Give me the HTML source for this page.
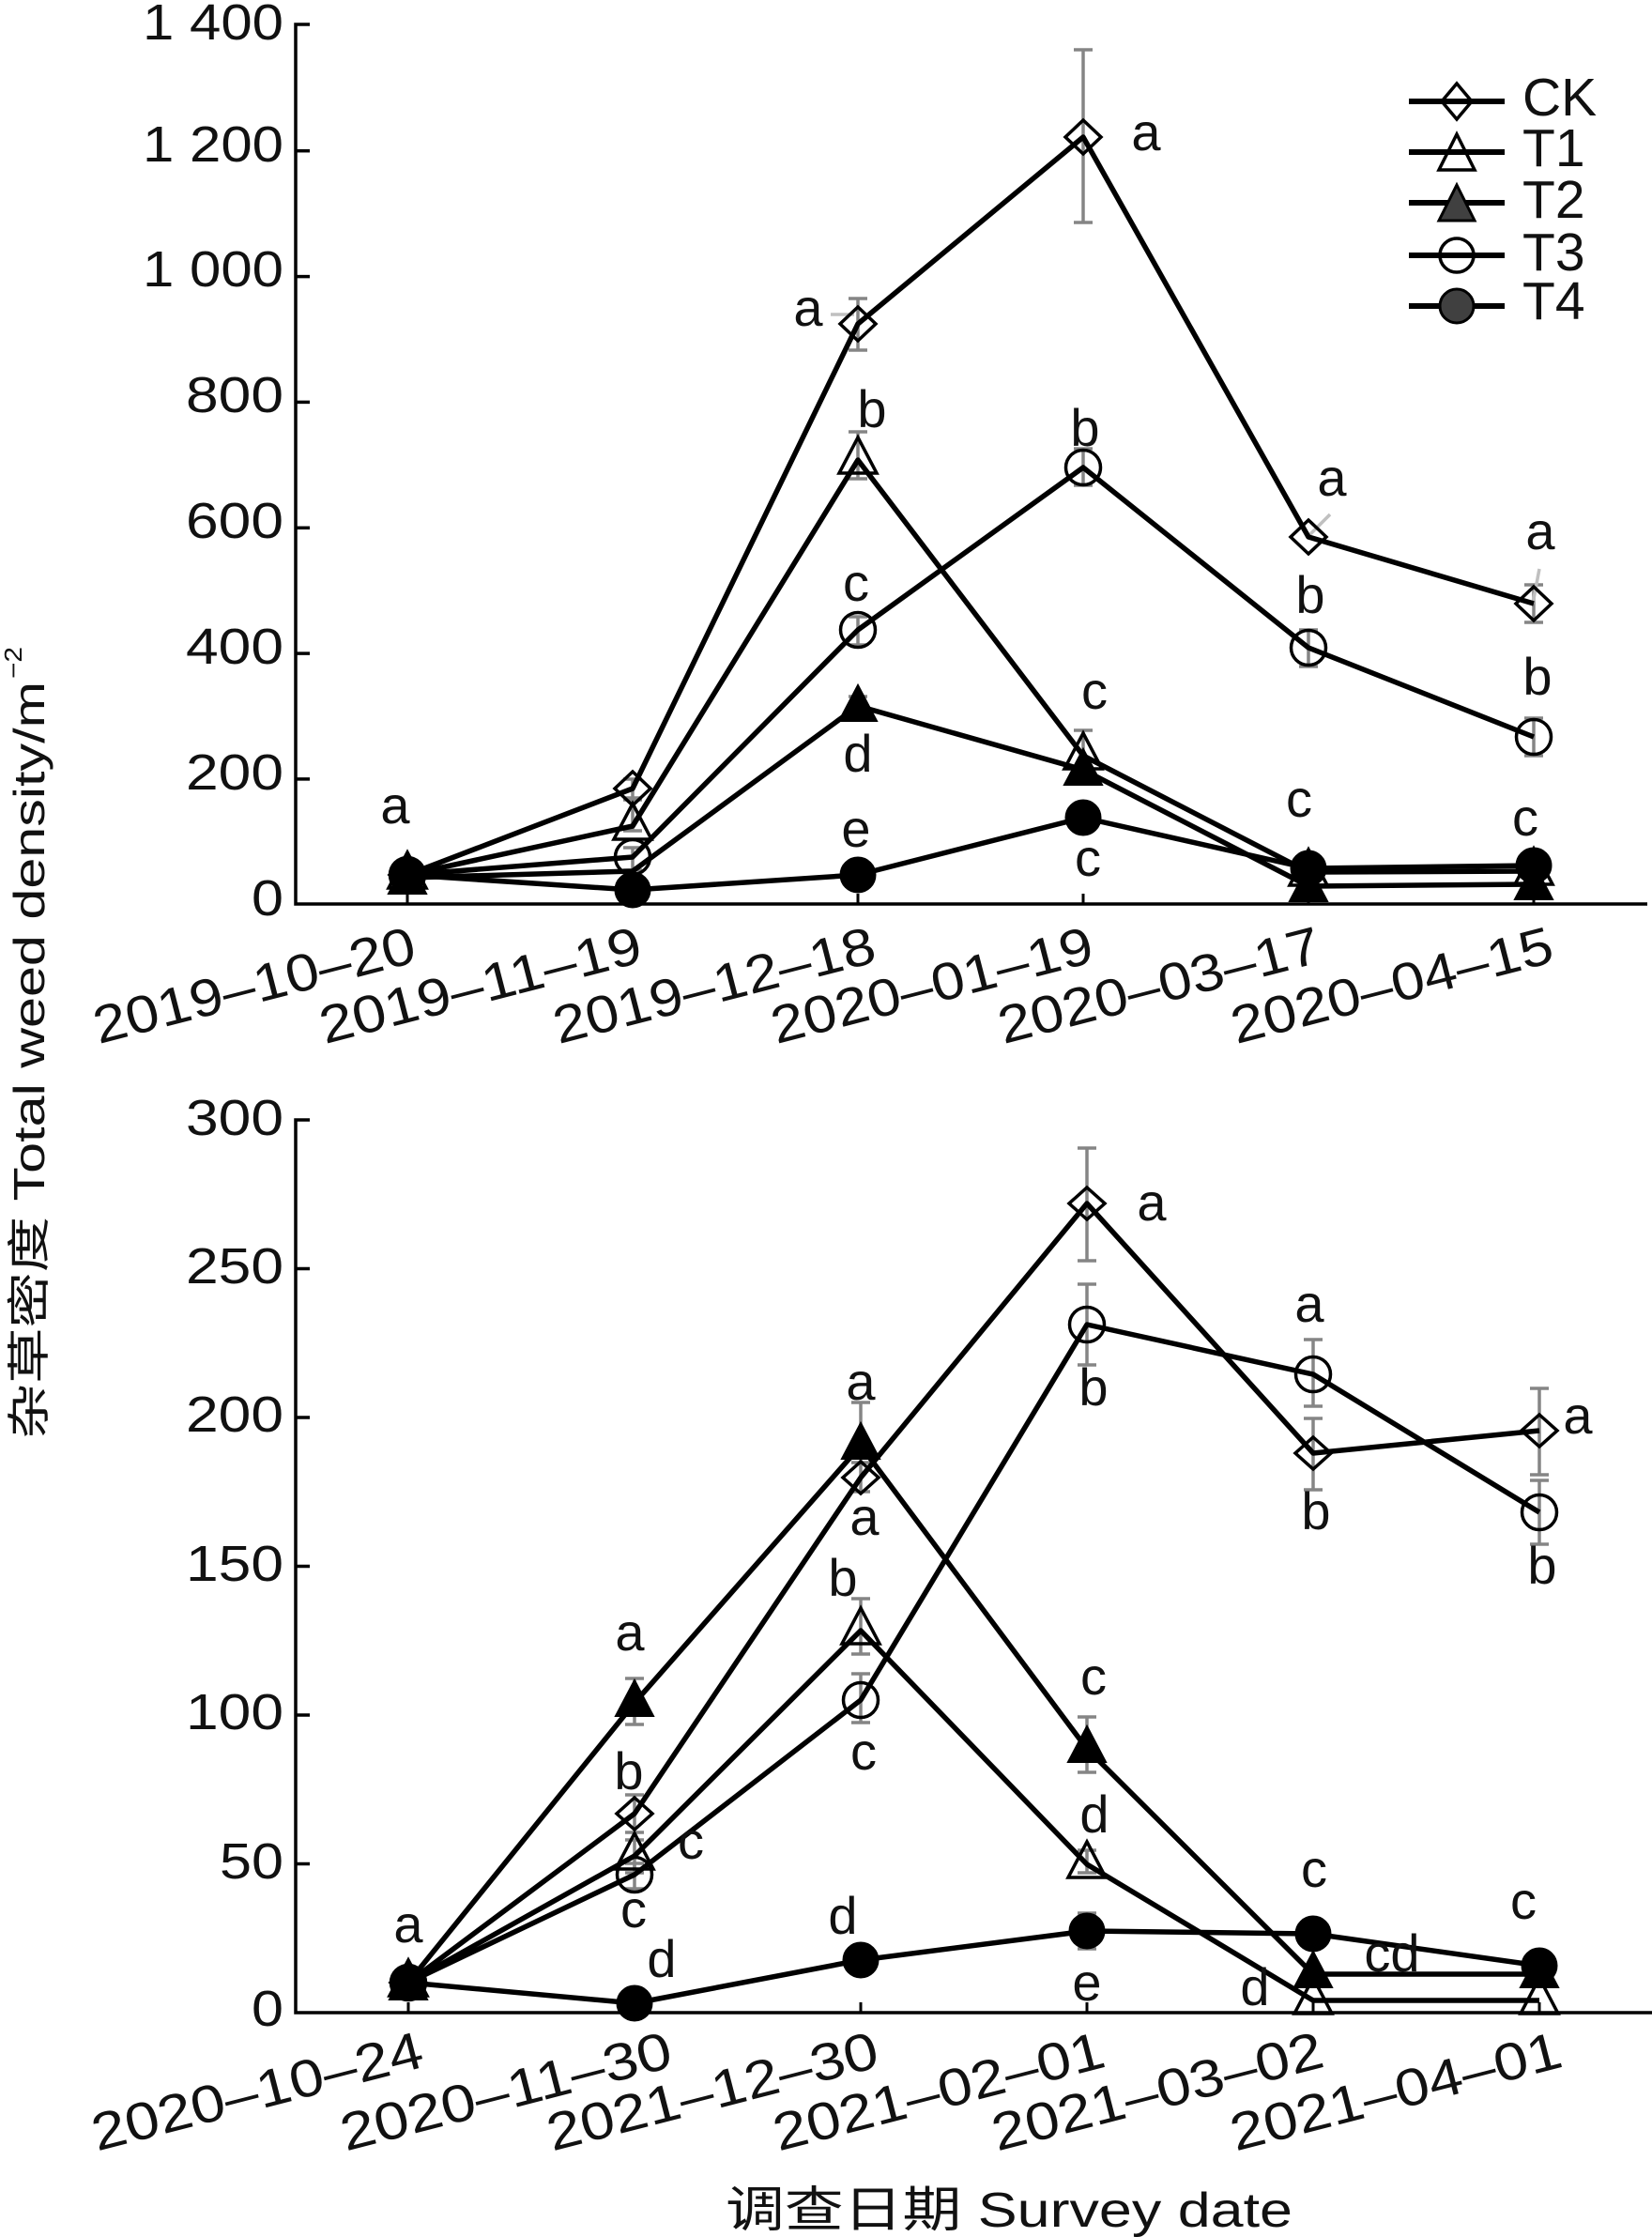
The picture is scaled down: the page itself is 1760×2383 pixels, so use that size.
<!DOCTYPE html>
<html>
<head>
<meta charset="utf-8">
<style>
html,body{margin:0;padding:0;background:#fff;}
svg{display:block;}
text{font-family:"Liberation Sans","Noto Sans CJK SC",sans-serif;fill:#111;}
</style>
</head>
<body>
<svg width="1760" height="2383" viewBox="0 0 1760 2383" xmlns="http://www.w3.org/2000/svg">

<!-- ================= TOP CHART ================= -->
<g stroke="#000" stroke-width="3.5" fill="none">
  <polyline points="330,26 315,26 315,963 1755,963"/>
  <line x1="315" y1="160.7" x2="330" y2="160.7"/>
  <line x1="315" y1="294.6" x2="330" y2="294.6"/>
  <line x1="315" y1="428.4" x2="330" y2="428.4"/>
  <line x1="315" y1="562.3" x2="330" y2="562.3"/>
  <line x1="315" y1="696.1" x2="330" y2="696.1"/>
  <line x1="315" y1="829.9" x2="330" y2="829.9"/>
  <line x1="434" y1="963" x2="434" y2="952" stroke-width="3"/>
  <line x1="674" y1="963" x2="674" y2="952" stroke-width="3"/>
  <line x1="914" y1="963" x2="914" y2="952" stroke-width="3"/>
  <line x1="1154" y1="963" x2="1154" y2="952" stroke-width="3"/>
  <line x1="1394" y1="963" x2="1394" y2="952" stroke-width="3"/>
  <line x1="1634" y1="963" x2="1634" y2="952" stroke-width="3"/>
</g>
<g font-size="54" text-anchor="end">
  <text x="302" y="42" textLength="150" lengthAdjust="spacingAndGlyphs">1 400</text>
  <text x="302" y="172" textLength="150" lengthAdjust="spacingAndGlyphs">1 200</text>
  <text x="302" y="305" textLength="150" lengthAdjust="spacingAndGlyphs">1 000</text>
  <text x="302" y="439" textLength="104" lengthAdjust="spacingAndGlyphs">800</text>
  <text x="302" y="573" textLength="104" lengthAdjust="spacingAndGlyphs">600</text>
  <text x="302" y="707" textLength="104" lengthAdjust="spacingAndGlyphs">400</text>
  <text x="302" y="841" textLength="104" lengthAdjust="spacingAndGlyphs">200</text>
  <text x="302" y="975" textLength="34" lengthAdjust="spacingAndGlyphs">0</text>
</g>
<g font-size="56" text-anchor="end">
  <text transform="translate(446,1024) rotate(-14.5)" textLength="352" lengthAdjust="spacingAndGlyphs">2019–10–20</text>
  <text transform="translate(687,1024) rotate(-14.5)" textLength="352" lengthAdjust="spacingAndGlyphs">2019–11–19</text>
  <text transform="translate(936,1024) rotate(-14.5)" textLength="352" lengthAdjust="spacingAndGlyphs">2019–12–18</text>
  <text transform="translate(1168,1024) rotate(-14.5)" textLength="352" lengthAdjust="spacingAndGlyphs">2020–01–19</text>
  <text transform="translate(1410,1024) rotate(-14.5)" textLength="352" lengthAdjust="spacingAndGlyphs">2020–03–17</text>
  <text transform="translate(1658,1024) rotate(-14.5)" textLength="352" lengthAdjust="spacingAndGlyphs">2020–04–15</text>
</g>

<!-- error bars top -->
<g stroke="#858585" stroke-width="3.5" fill="none">
  <path d="M674,830V852M664,830H684M664,852H684"/>
  <path d="M914,318V373M904,318H924M904,373H924"/>
  <path d="M1154,53V237M1144,53H1164M1144,237H1164"/>
  <path d="M1634,623V663M1624,623H1644M1624,663H1644"/>
  <path d="M674,850V885M664,850H684M664,885H684"/>
  <path d="M914,460V510M904,460H924M904,510H924"/>
  <path d="M1154,778V832M1144,778H1164M1144,832H1164"/>
  <path d="M674,903V927M664,903H684M664,927H684"/>
  <path d="M914,657V687M904,657H924M904,687H924"/>
  <path d="M1154,478V517M1144,478H1164M1144,517H1164"/>
  <path d="M1394,671V710M1384,671H1404M1384,710H1404"/>
  <path d="M1634,765V805M1624,765H1644M1624,805H1644"/>
  <path d="M914,742V762M904,742H924M904,762H924"/>
</g>
<g stroke="#c0c0c0" stroke-width="3.5">
  <line x1="885" y1="335" x2="910" y2="335"/>
  <line x1="1395" y1="570" x2="1417" y2="548"/>
  <line x1="1633" y1="643" x2="1640" y2="606"/>
</g>

<!-- series lines top -->
<g stroke="#000" stroke-width="5.5" fill="none" stroke-linejoin="round">
  <polyline points="434,932 674,840 914,345 1154,146 1394,572 1634,643"/>
  <polyline points="434,932 674,880 914,490 1154,805 1394,929 1634,928"/>
  <polyline points="434,935 674,928 914,752 1154,820 1394,944 1634,942"/>
  <polyline points="434,932 674,913 914,671 1154,498 1394,690 1634,785"/>
  <polyline points="434,932 674,948 914,932 1154,871 1394,925 1634,922"/>
</g>

<!-- markers top -->
<g stroke="#000" stroke-width="3.5" fill="none">
  <path d="M434,914 L453,932 L434,950 L415,932Z"/>
  <path d="M674,822 L693,840 L674,858 L655,840Z"/>
  <path d="M914,327 L933,345 L914,363 L895,345Z"/>
  <path d="M1154,128 L1173,146 L1154,164 L1135,146Z"/>
  <path d="M1394,554 L1413,572 L1394,590 L1375,572Z"/>
  <path d="M1634,625 L1653,643 L1634,661 L1615,643Z"/>
  <path d="M434,908 L454,946 L414,946Z"/>
  <path d="M674,856 L694,894 L654,894Z"/>
  <path d="M914,466 L934,504 L894,504Z"/>
  <path d="M1154,781 L1174,819 L1134,819Z"/>
  <path d="M1394,905 L1414,943 L1374,943Z"/>
  <path d="M1634,904 L1654,942 L1614,942Z"/>
  <circle cx="434" cy="932" r="18.5"/>
  <circle cx="674" cy="913" r="18.5"/>
  <circle cx="914" cy="671" r="18.5"/>
  <circle cx="1154" cy="498" r="18.5"/>
  <circle cx="1394" cy="690" r="18.5"/>
  <circle cx="1634" cy="785" r="18.5"/>
</g>
<g stroke="#000" stroke-width="2" fill="#000">
  <path d="M434,914 L454,952 L414,952Z"/>
  <path d="M914,730 L934,768 L894,768Z"/>
  <path d="M1154,798 L1174,836 L1134,836Z"/>
  <path d="M1394,922 L1414,960 L1374,960Z"/>
  <path d="M1634,920 L1654,958 L1614,958Z"/>
  <circle cx="434" cy="932" r="18.5"/>
  <circle cx="674" cy="948" r="18.5"/>
  <circle cx="914" cy="932" r="18.5"/>
  <circle cx="1154" cy="871" r="18.5"/>
  <circle cx="1394" cy="925" r="18.5"/>
  <circle cx="1634" cy="922" r="18.5"/>
</g>

<!-- letters top -->
<g font-size="56" text-anchor="middle">
  <text x="421" y="877">a</text>
  <text x="861" y="347">a</text>
  <text x="1221" y="160">a</text>
  <text x="929" y="455">b</text>
  <text x="1156" y="475">b</text>
  <text x="912" y="640">c</text>
  <text x="914" y="822">d</text>
  <text x="912" y="902">e</text>
  <text x="1166" y="755">c</text>
  <text x="1159" y="933">c</text>
  <text x="1419" y="528">a</text>
  <text x="1396" y="653">b</text>
  <text x="1384" y="870">c</text>
  <text x="1641" y="585">a</text>
  <text x="1638" y="740">b</text>
  <text x="1625" y="890">c</text>
</g>

<!-- legend -->
<g stroke="#000" stroke-width="6">
  <line x1="1501" y1="108" x2="1603" y2="108"/>
  <line x1="1501" y1="162" x2="1603" y2="162"/>
  <line x1="1501" y1="216" x2="1603" y2="216"/>
  <line x1="1501" y1="272" x2="1603" y2="272"/>
  <line x1="1501" y1="326" x2="1603" y2="326"/>
</g>
<g stroke="#000" stroke-width="3.5" fill="none">
  <path d="M1552,89 L1568,108 L1552,127 L1536,108Z"/>
  <path d="M1552,143 L1571,181 L1533,181Z"/>
  <circle cx="1552" cy="272" r="18"/>
</g>
<g stroke="#000" stroke-width="3" fill="#404040">
  <path d="M1552,197 L1571,235 L1533,235Z"/>
  <circle cx="1552" cy="326" r="18"/>
</g>
<g font-size="57">
  <text x="1622" y="123">CK</text>
  <text x="1622" y="177">T1</text>
  <text x="1622" y="232">T2</text>
  <text x="1622" y="288">T3</text>
  <text x="1622" y="340">T4</text>
</g>

<!-- y title -->
<text transform="translate(47,1533) rotate(-90)" font-size="46" textLength="807" lengthAdjust="spacingAndGlyphs">杂草密度 Total weed density/m</text>
<text transform="translate(23,723) rotate(-90)" font-size="26" textLength="34" lengthAdjust="spacingAndGlyphs">−2</text>

<!-- ================= BOTTOM CHART ================= -->
<g stroke="#000" stroke-width="3.5" fill="none">
  <polyline points="330,1193 315,1193 315,2144 1760,2144"/>
  <line x1="315" y1="1351.5" x2="330" y2="1351.5"/>
  <line x1="315" y1="1510" x2="330" y2="1510"/>
  <line x1="315" y1="1668.5" x2="330" y2="1668.5"/>
  <line x1="315" y1="1827" x2="330" y2="1827"/>
  <line x1="315" y1="1985.5" x2="330" y2="1985.5"/>
  <line x1="435" y1="2144" x2="435" y2="2133" stroke-width="3"/>
  <line x1="676" y1="2144" x2="676" y2="2133" stroke-width="3"/>
  <line x1="917" y1="2144" x2="917" y2="2133" stroke-width="3"/>
  <line x1="1158" y1="2144" x2="1158" y2="2133" stroke-width="3"/>
  <line x1="1399" y1="2144" x2="1399" y2="2133" stroke-width="3"/>
  <line x1="1640" y1="2144" x2="1640" y2="2133" stroke-width="3"/>
</g>
<g font-size="54" text-anchor="end">
  <text x="302" y="1209" textLength="104" lengthAdjust="spacingAndGlyphs">300</text>
  <text x="302" y="1367" textLength="104" lengthAdjust="spacingAndGlyphs">250</text>
  <text x="302" y="1525" textLength="104" lengthAdjust="spacingAndGlyphs">200</text>
  <text x="302" y="1684" textLength="104" lengthAdjust="spacingAndGlyphs">150</text>
  <text x="302" y="1842" textLength="104" lengthAdjust="spacingAndGlyphs">100</text>
  <text x="302" y="2001" textLength="68" lengthAdjust="spacingAndGlyphs">50</text>
  <text x="302" y="2158" textLength="34" lengthAdjust="spacingAndGlyphs">0</text>
</g>
<g font-size="56" text-anchor="end">
  <text transform="translate(454,2201) rotate(-14.5)" textLength="362" lengthAdjust="spacingAndGlyphs">2020–10–24</text>
  <text transform="translate(719,2201) rotate(-14.5)" textLength="362" lengthAdjust="spacingAndGlyphs">2020–11–30</text>
  <text transform="translate(939,2201) rotate(-14.5)" textLength="362" lengthAdjust="spacingAndGlyphs">2021–12–30</text>
  <text transform="translate(1180,2201) rotate(-14.5)" textLength="362" lengthAdjust="spacingAndGlyphs">2021–02–01</text>
  <text transform="translate(1413,2201) rotate(-14.5)" textLength="362" lengthAdjust="spacingAndGlyphs">2021–03–02</text>
  <text transform="translate(1667,2201) rotate(-14.5)" textLength="362" lengthAdjust="spacingAndGlyphs">2021–04–01</text>
</g>

<!-- error bars bottom -->
<g stroke="#858585" stroke-width="3.5" fill="none">
  <path d="M676,1912V1952M666,1912H686M666,1952H686"/>
  <path d="M676,1960V1995M666,1960H686M666,1995H686"/>
  <path d="M676,1985V2012M666,1985H686M666,2012H686"/>
  <path d="M676,1788V1837M666,1788H686M666,1837H686"/>
  <path d="M917,1558V1589M907,1558H927M907,1589H927"/>
  <path d="M917,1494V1560M907,1494H927"/>
  <path d="M917,1703V1762M907,1703H927M907,1762H927"/>
  <path d="M917,1783V1835M907,1783H927M907,1835H927"/>
  <path d="M1158,1223V1343M1148,1223H1168M1148,1343H1168"/>
  <path d="M1158,1368V1454M1148,1368H1168M1148,1454H1168"/>
  <path d="M1158,1829V1888M1148,1829H1168M1148,1888H1168"/>
  <path d="M1158,1971V1995M1148,1971H1168M1148,1995H1168"/>
  <path d="M1158,2038V2076M1148,2038H1168M1148,2076H1168"/>
  <path d="M1399,1511V1587M1389,1511H1409M1389,1587H1409"/>
  <path d="M1399,1427V1498M1389,1427H1409M1389,1498H1409"/>
  <path d="M1640,1479V1571M1630,1479H1650M1630,1571H1650"/>
  <path d="M1640,1577V1645M1630,1577H1650M1630,1645H1650"/>
</g>

<!-- series lines bottom -->
<g stroke="#000" stroke-width="5.5" fill="none" stroke-linejoin="round">
  <polyline points="435,2112 676,1932 917,1574 1158,1282 1399,1548 1640,1524"/>
  <polyline points="435,2112 676,1977 917,1737 1158,1986 1399,2131 1640,2131"/>
  <polyline points="435,2112 676,1814 917,1540 1158,1863 1399,2103 1640,2103"/>
  <polyline points="435,2112 676,1997 917,1811 1158,1411 1399,1464 1640,1611"/>
  <polyline points="435,2112 676,2134 917,2088 1158,2057 1399,2060 1640,2094"/>
</g>

<!-- markers bottom -->
<g stroke="#000" stroke-width="3.5" fill="none">
  <path d="M435,2095 L454,2112 L435,2129 L416,2112Z"/>
  <path d="M676,1915 L695,1932 L676,1949 L657,1932Z"/>
  <path d="M917,1557 L936,1574 L917,1591 L898,1574Z"/>
  <path d="M1158,1265 L1177,1282 L1158,1299 L1139,1282Z"/>
  <path d="M1399,1531 L1418,1548 L1399,1565 L1380,1548Z"/>
  <path d="M1640,1507 L1659,1524 L1640,1541 L1621,1524Z"/>
  <path d="M435,2088 L455,2126 L415,2126Z"/>
  <path d="M676,1953 L696,1991 L656,1991Z"/>
  <path d="M917,1713 L937,1751 L897,1751Z"/>
  <path d="M1158,1962 L1178,2000 L1138,2000Z"/>
  <path d="M1399,2107 L1419,2145 L1379,2145Z"/>
  <path d="M1640,2107 L1660,2145 L1620,2145Z"/>
  <circle cx="435" cy="2112" r="18.5"/>
  <circle cx="676" cy="1997" r="18.5"/>
  <circle cx="917" cy="1811" r="18.5"/>
  <circle cx="1158" cy="1411" r="18.5"/>
  <circle cx="1399" cy="1464" r="18.5"/>
  <circle cx="1640" cy="1611" r="18.5"/>
</g>
<g stroke="#000" stroke-width="2" fill="#000">
  <path d="M435,2092 L455,2130 L415,2130Z"/>
  <path d="M676,1790 L696,1828 L656,1828Z"/>
  <path d="M917,1516 L937,1554 L897,1554Z"/>
  <path d="M1158,1839 L1178,1877 L1138,1877Z"/>
  <path d="M1399,2079 L1419,2117 L1379,2117Z"/>
  <path d="M1640,2079 L1660,2117 L1620,2117Z"/>
  <circle cx="435" cy="2112" r="18.5"/>
  <circle cx="676" cy="2134" r="18.5"/>
  <circle cx="917" cy="2088" r="18.5"/>
  <circle cx="1158" cy="2057" r="18.5"/>
  <circle cx="1399" cy="2060" r="18.5"/>
  <circle cx="1640" cy="2094" r="18.5"/>
</g>

<!-- letters bottom -->
<g font-size="56" text-anchor="middle">
  <text x="435" y="2069">a</text>
  <text x="671" y="1758">a</text>
  <text x="670" y="1906">b</text>
  <text x="736" y="1980">c</text>
  <text x="675" y="2053">c</text>
  <text x="705" y="2106">d</text>
  <text x="917" y="1491">a</text>
  <text x="921" y="1635">a</text>
  <text x="898" y="1700">b</text>
  <text x="920" y="1885">c</text>
  <text x="898" y="2060">d</text>
  <text x="1227" y="1300">a</text>
  <text x="1165" y="1497">b</text>
  <text x="1165" y="1805">c</text>
  <text x="1166" y="1952">d</text>
  <text x="1158" y="2131">e</text>
  <text x="1395" y="1408">a</text>
  <text x="1402" y="1629">b</text>
  <text x="1400" y="2010">c</text>
  <text x="1483" y="2100">cd</text>
  <text x="1337" y="2136">d</text>
  <text x="1681" y="1527">a</text>
  <text x="1643" y="1687">b</text>
  <text x="1623" y="2044">c</text>
</g>

<!-- x title -->
<text x="773" y="2372" font-size="52" textLength="604" lengthAdjust="spacingAndGlyphs">调查日期 Survey date</text>

</svg>
</body>
</html>
